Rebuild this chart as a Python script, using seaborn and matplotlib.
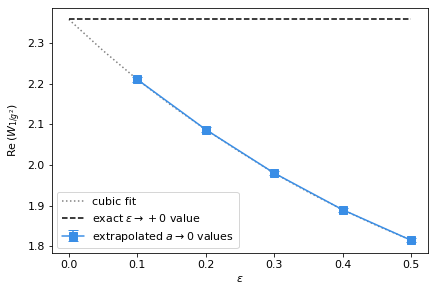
import numpy as np
import seaborn as sns
import matplotlib.pyplot as plt

sns.set_style("ticks")
plt.rcParams["font.family"] = ["DejaVu Sans"]
plt.rcParams["font.size"] = 11
plt.rcParams["mathtext.fontset"] = "dejavusans"
plt.rcParams["axes.edgecolor"] = "black"
plt.rcParams["xtick.color"] = "black"
plt.rcParams["ytick.color"] = "black"
plt.rcParams["text.color"] = "black"
plt.rcParams["axes.labelcolor"] = "black"

# data
eps = [0.1, 0.2, 0.3, 0.4, 0.5]
re_w = [2.210, 2.087, 1.980, 1.890, 1.815]
re_err = [0.006, 0.005, 0.005, 0.005, 0.005]

# cubic fit curve, read at a few points
fit_eps = [0.0, 0.05, 0.1, 0.15, 0.2, 0.25, 0.3, 0.35, 0.4, 0.45, 0.5]
fit_val = [2.3576, 2.281, 2.210, 2.146, 2.087, 2.032, 1.980, 1.933, 1.890, 1.851, 1.815]

exact_eps = [0.0, 0.5]
exact_val = [2.3576, 2.3576]

blue = "#3a8ee6"

fig, ax = plt.subplots(figsize=(436 / 72, 295 / 72), dpi=72)
fig.subplots_adjust(left=0.1186, right=0.982, top=0.972, bottom=0.141)

sns.lineplot(x=fit_eps, y=fit_val, ax=ax, color="gray", linestyle=":", label="cubic fit")
sns.lineplot(x=exact_eps, y=exact_val, ax=ax, color="black", linestyle="--",
             label=r"exact $\epsilon\to+0$ value")
ax.errorbar(eps, re_w, yerr=re_err, color=blue, marker="s", markersize=8,
            capsize=5, label=r"extrapolated $a\to0$ values")

ax.set_xlabel(r"$\epsilon$")
ax.set_ylabel(r"Re$\,(W_{1/g^2})$")
ax.set_xticks([0.0, 0.1, 0.2, 0.3, 0.4, 0.5])
ax.set_yticks([1.8, 1.9, 2.0, 2.1, 2.2, 2.3])
ax.legend(loc="lower left")

fig.savefig("out.png", dpi=72)
